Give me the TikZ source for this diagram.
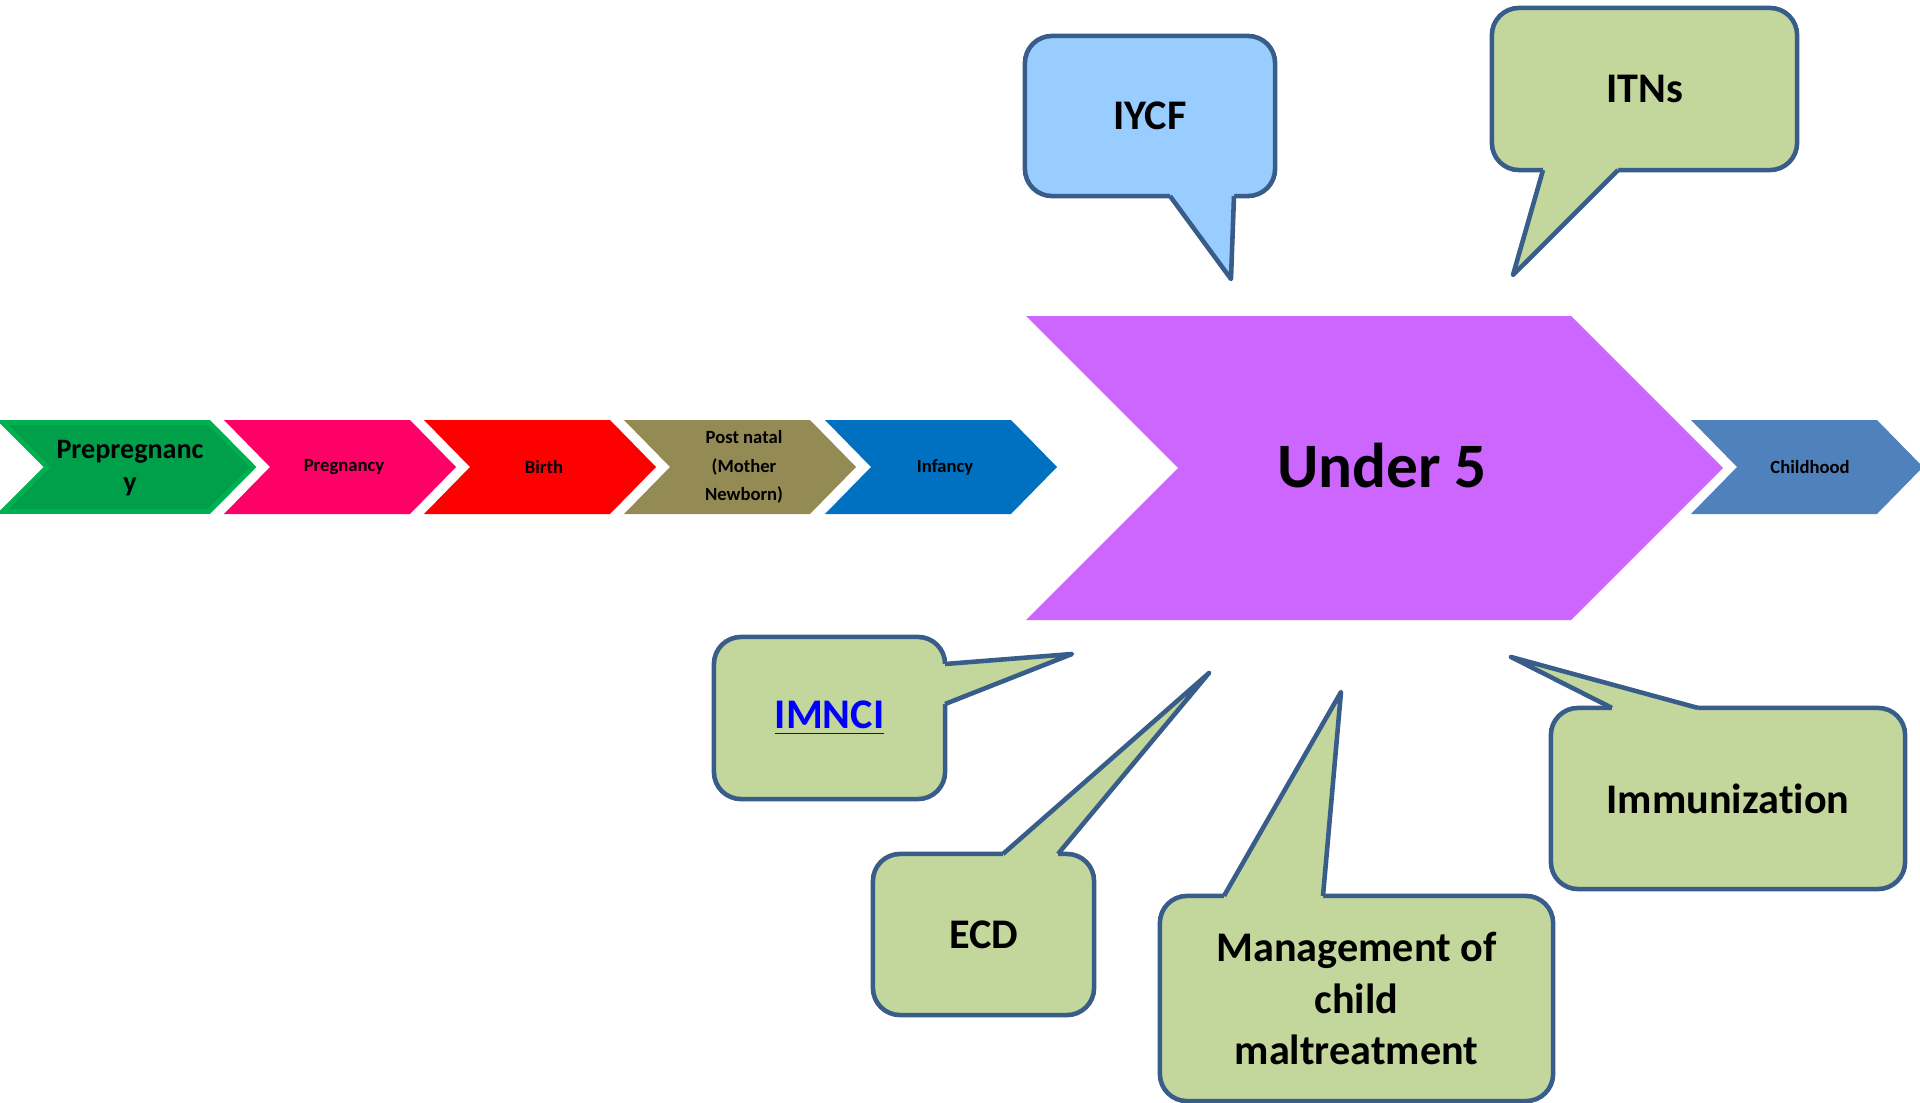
\documentclass[tikz,border=0pt]{standalone}
\usepackage{fontspec}
\setmainfont{Carlito}[Ligatures={NoCommon,NoRequired,NoContextual}]
\usetikzlibrary{calc}
\definecolor{bubline}{RGB}{56,93,138}
\definecolor{bubgreen}{RGB}{195,214,155}
\definecolor{bubblue}{RGB}{153,204,255}
\definecolor{prepregfill}{RGB}{0,160,74}
\definecolor{prepregline}{RGB}{0,176,80}
\definecolor{pregfill}{RGB}{255,0,102}
\definecolor{birthfill}{RGB}{255,0,0}
\definecolor{postfill}{RGB}{148,138,84}
\definecolor{infancyfill}{RGB}{0,112,192}
\definecolor{underfill}{RGB}{204,102,255}
\definecolor{childfill}{RGB}{79,129,189}
\tikzset{
    bubble/.style = {
        draw=bubline,
        shape=rectangle,
        line width=1.3pt,
        rounded corners=0.27cm,
        outer sep=0pt,
        align=center,
        font=\fontsize{12}{14.6}\selectfont\bfseries
    },
    tail/.style = {
        draw=bubline,
        line width=1.3pt,
        line join=round
    },
    chevtext/.style = {
        align=center,
        font=\fontsize{5.3}{8.2}\selectfont\bfseries
    },
}
\begin{document}
\begin{tikzpicture}[x=0.01cm,y=-0.01cm]
            \useasboundingbox (0,0) rectangle (1920,1103);

            % chevrons
            \path[fill=prepregfill, draw=prepregline, line width=1.4pt] (2.5,422.5) -- (209,422.5) -- (253,467) -- (209,511.5) -- (2.5,511.5) -- (47,467) -- cycle;
            \path[fill=pregfill] (224,420) -- (410,420) -- (456,467) -- (410,514) -- (224,514) -- (270,467) -- cycle;
            \path[fill=birthfill] (424,420) -- (610,420) -- (656,467) -- (610,514) -- (424,514) -- (470,467) -- cycle;
            \path[fill=postfill] (624,420) -- (810,420) -- (856,467) -- (810,514) -- (624,514) -- (670,467) -- cycle;
            \path[fill=infancyfill] (825,420) -- (1011,420) -- (1057,467) -- (1011,514) -- (825,514) -- (871,467) -- cycle;
            \path[fill=underfill] (1026,316) -- (1571,316) -- (1723,468) -- (1571,620) -- (1026,620) -- (1178,468) -- cycle;
            \path[fill=childfill] (1691,420) -- (1877,420) -- (1923,467) -- (1877,514) -- (1691,514) -- (1737,467) -- cycle;

            \node[chevtext, font=\fontsize{8}{9.2}\selectfont\bfseries] (prepreg) at (130,468) {Prepregnanc\\y};
            \node[chevtext] (preg) at (344,467) {Pregnancy};
            \node[chevtext] (birth) at (544,467) {Birth};
            \node[chevtext] (postnatal) at (744,467) {Post natal\\(Mother\\Newborn)};
            \node[chevtext] (infancy) at (945,467) {Infancy};
            \node[font=\fontsize{18}{21}\selectfont\bfseries] (under5) at (1382,466) {Under 5};
            \node[chevtext] (childhood) at (1810,467) {Childhood};

            % callouts
            \node[bubble, fill=bubblue, minimum width=2.5cm, minimum height=1.6cm] (iycf) at (1150,116) {IYCF};
            \node[bubble, fill=bubgreen, minimum width=3.05cm, minimum height=1.62cm] (itns) at (1644.5,89) {ITNs};
            \node[bubble, fill=bubgreen, minimum width=2.31cm, minimum height=1.62cm] (imnci) at (829.5,718) {\textcolor{blue}{\underline{IMNCI}}};
            \node[bubble, fill=bubgreen, minimum width=2.21cm, minimum height=1.61cm] (ecd) at (983.5,934.5) {ECD};
            \node[bubble, fill=bubgreen, minimum width=3.93cm, minimum height=2.05cm] (maltreat) at (1356.5,998.5) {Management of\\child\\maltreatment};
            \node[bubble, fill=bubgreen, minimum width=3.54cm, minimum height=1.81cm] (immun) at (1728,798.5) {Immunization};

            \coordinate (iycftip) at (1231,279);
            \coordinate (itnstip) at (1513,275);
            \coordinate (imncitip) at (1072,654);
            \coordinate (ecdtip) at (1209,673);
            \coordinate (maltreattip) at (1341,692);
            \coordinate (immuntip) at (1511,657);

            \fill[bubblue] ($(iycf.south)+(20,0)$) -- (iycftip) -- ($(iycf.south)+(84,0)$) -- ($(iycf.south)+(84,-7)$) -- ($(iycf.south)+(20,-7)$) -- cycle;
            \path[tail] ($(iycf.south)+(20,0)$) -- (iycftip) -- ($(iycf.south)+(84,0)$);

            \fill[bubgreen] ($(itns.south)+(-101.5,0)$) -- (itnstip) -- ($(itns.south)+(-26.5,0)$) -- ($(itns.south)+(-26.5,-7)$) -- ($(itns.south)+(-101.5,-7)$) -- cycle;
            \path[tail] ($(itns.south)+(-101.5,0)$) -- (itnstip) -- ($(itns.south)+(-26.5,0)$);

            \fill[bubgreen] ($(imnci.east)+(0,-54)$) -- (imncitip) -- ($(imnci.east)+(0,-14)$) -- ($(imnci.east)+(-7,-14)$) -- ($(imnci.east)+(-7,-54)$) -- cycle;
            \path[tail] ($(imnci.east)+(0,-54)$) -- (imncitip) -- ($(imnci.east)+(0,-14)$);

            \fill[bubgreen] ($(ecd.north)+(19.5,0)$) -- (ecdtip) -- ($(ecd.north)+(74.5,0)$) -- ($(ecd.north)+(74.5,7)$) -- ($(ecd.north)+(19.5,7)$) -- cycle;
            \path[tail] ($(ecd.north)+(19.5,0)$) -- (ecdtip) -- ($(ecd.north)+(74.5,0)$);

            \fill[bubgreen] ($(maltreat.north)+(-132.5,0)$) -- (maltreattip) -- ($(maltreat.north)+(-33.5,0)$) -- ($(maltreat.north)+(-33.5,7)$) -- ($(maltreat.north)+(-132.5,7)$) -- cycle;
            \path[tail] ($(maltreat.north)+(-132.5,0)$) -- (maltreattip) -- ($(maltreat.north)+(-33.5,0)$);

            \fill[bubgreen] ($(immun.north)+(-116,0)$) -- (immuntip) -- ($(immun.north)+(-30,0)$) -- ($(immun.north)+(-30,7)$) -- ($(immun.north)+(-116,7)$) -- cycle;
            \path[tail] ($(immun.north)+(-116,0)$) -- (immuntip) -- ($(immun.north)+(-30,0)$);
        \end{tikzpicture}
\end{document}
